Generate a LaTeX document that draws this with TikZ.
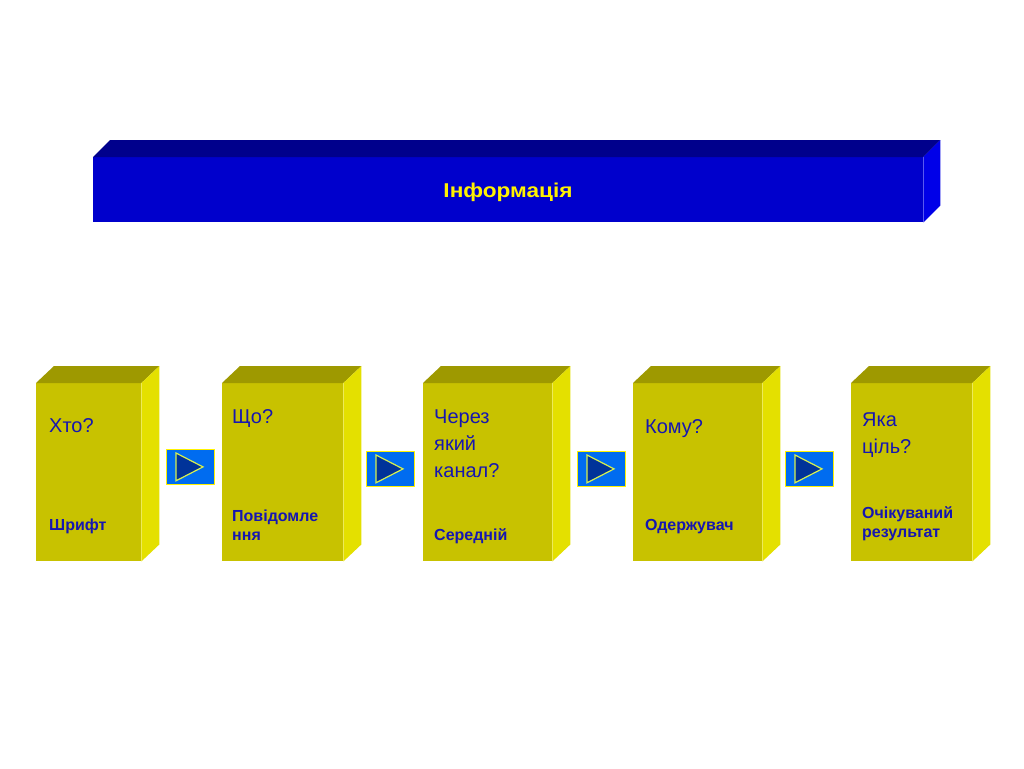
\documentclass[tikz,border=0pt]{standalone}
\usepackage{fontspec}
\setmainfont{Liberation Sans}
\definecolor{yfront}{RGB}{200,194,0}
\definecolor{ytop}{RGB}{158,153,0}
\definecolor{yside}{RGB}{228,224,0}
\definecolor{bfront}{RGB}{0,0,204}
\definecolor{btop}{RGB}{0,0,140}
\definecolor{bside}{RGB}{0,0,232}
\definecolor{txtblue}{RGB}{22,22,176}
\definecolor{arrfill}{RGB}{0,108,240}
\definecolor{trifill}{RGB}{0,51,153}
\definecolor{triline}{RGB}{215,240,80}
\begin{document}
\begin{tikzpicture}[x=1pt,y=-1pt,
  front/.style={fill=yfront,draw=none,rectangle,inner sep=0pt,anchor=north west,minimum height=178pt},
  topface/.style={fill=ytop},
  sideface/.style={fill=yside},
  qtext/.style={text=txtblue,inner sep=0pt,anchor=base west,align=left,font=\fontsize{20}{27}\selectfont},
  ltext/.style={text=txtblue,inner sep=0pt,anchor=base west,align=left,font=\fontsize{16}{19}\selectfont\bfseries},
  arrbox/.style={fill=arrfill,draw=yellow,line width=0.8pt,rectangle,inner sep=0pt,anchor=north west,minimum width=48pt,minimum height=35pt},
  tri/.style={fill=trifill,draw=triline,line width=1.2pt,line join=miter}
]
\useasboundingbox (0,0) rectangle (1024,768);
\fill[white] (0,0) rectangle (1024,768);

% Title bar
\node[fill=bfront,rectangle,inner sep=0pt,anchor=north west,minimum width=830pt,minimum height=65pt] (bar) at (93,157) {};
\fill[btop] (bar.north west) -- ++(17,-17) -- ([xshift=17pt,yshift=17pt]bar.north east) -- (bar.north east) -- cycle;
\fill[bside] (bar.north east) -- ++(17,-17) -- ([xshift=17pt,yshift=17pt]bar.south east) -- (bar.south east) -- cycle;
\node[text=yellow,inner sep=0pt,anchor=base,font=\fontsize{20}{24}\selectfont\bfseries] (title) at (508,197) {\scalebox{1.13}[1]{Інформація}};

% Boxes
\foreach \n/\x/\w in {1/36/105,2/222/121,3/423/129,4/633/129,5/851/121}{
  \node[front,minimum width=\w pt] (b\n) at (\x,383) {};
  \fill[topface] (b\n.north west) -- ++(18,-17) -- ([xshift=18pt,yshift=17pt]b\n.north east) -- (b\n.north east) -- cycle;
  \fill[sideface] (b\n.north east) -- ++(18,-17) -- ([xshift=18pt,yshift=17pt]b\n.south east) -- (b\n.south east) -- cycle;
}

% Texts (anchor = baseline of last line)
\node[qtext] (q1) at (49,432) {Хто?};
\node[ltext] (l1) at (49,530) {Шрифт};
\node[qtext] (q2) at (232,423) {Що?};
\node[ltext] (l2) at (232,540) {Повідомле\\ння};
\node[qtext] (q3) at (434,477) {Через\\який\\канал?};
\node[ltext] (l3) at (434,540) {Середній};
\node[qtext] (q4) at (645,433) {Кому?};
\node[ltext] (l4) at (645,530) {Одержувач};
\node[qtext] (q5) at (862,453) {Яка\\ціль?};
\node[ltext] (l5) at (862,537) {Очікуваний\\результат};

% Arrow boxes
\foreach \n/\x/\y in {1/166/449,2/366/451,3/577/451,4/785/451}{
  \node[arrbox] (a\n) at (\x,\y) {};
  \draw[tri] ([xshift=10pt,yshift=-4pt]a\n.north west) -- ([xshift=37pt]a\n.west) -- ([xshift=10pt,yshift=4pt]a\n.south west) -- cycle;
}
\end{tikzpicture}
\end{document}
